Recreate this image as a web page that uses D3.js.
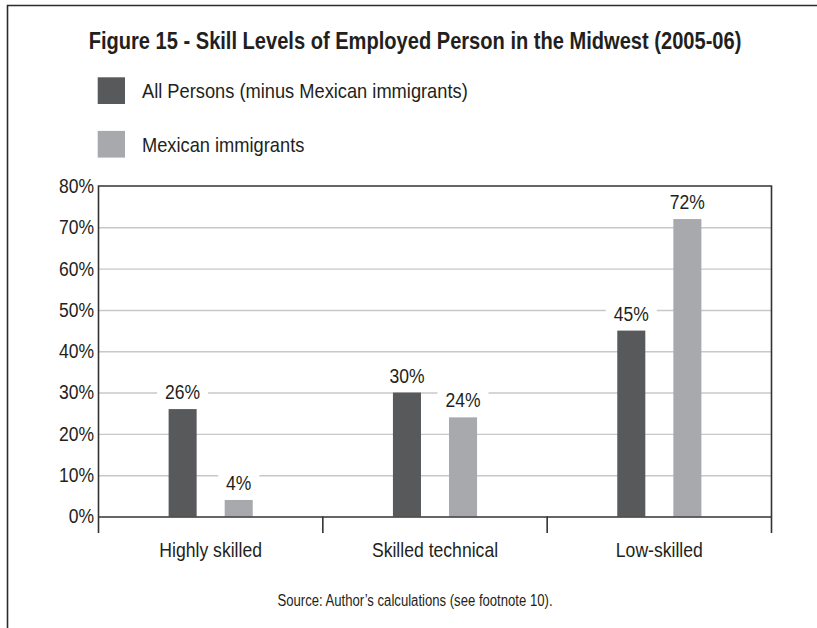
<!DOCTYPE html>
<html>
<head>
<meta charset="utf-8">
<script src="https://cdn.jsdelivr.net/npm/d3@7"></script>
<style>
  html, body { margin: 0; padding: 0; background: #fff; }
  svg { display: block; }
  text { font-family: "Liberation Sans", Arial, sans-serif; fill: #231f20; }
</style>
</head>
<body>
<svg id="chart" width="817" height="628"></svg>
<script>
// Skill levels of employed persons in the Midwest, 2005-06 (percent)
const categories = ["Highly skilled", "Skilled technical", "Low-skilled"];
const seriesNames = ["All Persons (minus Mexican immigrants)", "Mexican immigrants"];
const allPersons = [26, 30, 45];
const mexicanImmigrants = [4, 24, 72];
const yTickValues = [0, 10, 20, 30, 40, 50, 60, 70, 80];
const yTickLabels = ["0%", "10%", "20%", "30%", "40%", "50%", "60%", "70%", "80%"];
const seriesColors = ["#58595b", "#a7a9ac"];

const titleText = "Figure 15 - Skill Levels of Employed Person in the Midwest (2005-06)";
const sourceText = "Source: Author\u2019s calculations (see footnote 10).";

const svg = d3.select("#chart");

// narrow the glyphs horizontally about the text's anchor x, giving a condensed face
function condense(sel, factor) {
  sel.each(function () {
    const ax = +(this.getAttribute("x") || 0);
    this.setAttribute("transform", `translate(${ax * (1 - factor)},0) scale(${factor},1)`);
    this.__cw = this.getComputedTextLength() * factor;
  });
  return sel;
}

const plot = { left: 98.5, right: 771.5, top: 186, bottom: 516.5 };
const tickDrop = 16.5;

const x0 = d3.scaleBand().domain(categories).range([plot.left, plot.right]).padding(0);
const x1 = d3.scaleBand().domain([0, 1])
  .range([x0.bandwidth() * 0.3125, x0.bandwidth() * 0.6875])
  .paddingInner(0.5).paddingOuter(0);
const y = d3.scaleLinear().domain([0, 80]).range([plot.bottom, plot.top]);

// outer frame (left and top edges)
svg.append("path")
  .attr("d", "M7.5,628 V5.5 H817")
  .attr("fill", "none").attr("stroke", "#2b2b2b").attr("stroke-width", 1.6);

// title
svg.append("text")
  .attr("x", 415).attr("y", 49.3)
  .attr("text-anchor", "middle")
  .attr("font-weight", "bold")
  .attr("font-size", "24.5px")
  .text(titleText)
  .call(condense, 0.82);

// legend
const legend = svg.append("g");
seriesNames.forEach((name, i) => {
  const cy = 90.7 + i * 53.6;
  legend.append("rect")
    .attr("x", 97.7).attr("y", cy - 13.4)
    .attr("width", 27.3).attr("height", 26.7)
    .attr("fill", seriesColors[i]);
  legend.append("text")
    .attr("x", 142).attr("y", cy)
    .attr("dy", "0.36em")
    .attr("font-size", "21px")
    .text(name)
    .call(condense, 0.87);
});

// horizontal gridlines
const grid = svg.append("g")
  .attr("transform", `translate(${plot.left},0)`)
  .call(d3.axisLeft(y).tickValues(yTickValues.filter(v => v > 0 && v < 80))
    .tickSize(-(plot.right - plot.left)).tickFormat(""));
grid.select(".domain").remove();
grid.selectAll(".tick line").attr("stroke", "#c8c8c8").attr("stroke-width", 1.4);

// y axis labels
const yAxis = svg.append("g")
  .attr("transform", `translate(${plot.left},0)`)
  .call(d3.axisLeft(y).tickValues(yTickValues).tickSize(0).tickPadding(4.5)
    .tickFormat((d, i) => yTickLabels[i]));
yAxis.select(".domain").remove();
yAxis.selectAll(".tick text")
  .attr("font-size", "20px")
  .attr("font-family", null)
  .attr("fill", "#231f20")
  .call(condense, 0.875);

// plot frame: top edge, left axis, right edge (both sides drop below baseline)
svg.append("path")
  .attr("d", `M${plot.left},${plot.bottom + tickDrop} V${plot.top} H${plot.right} V${plot.bottom + tickDrop}`)
  .attr("fill", "none").attr("stroke", "#333").attr("stroke-width", 1.6);

// bars
const seriesValues = [allPersons, mexicanImmigrants];
const groups = svg.append("g").selectAll("g")
  .data(categories)
  .join("g")
  .attr("transform", d => `translate(${x0(d)},0)`);

groups.selectAll("rect")
  .data((d, ci) => seriesValues.map((vals, si) => ({ si, v: vals[ci] })))
  .join("rect")
  .attr("x", d => x1(d.si))
  .attr("width", x1.bandwidth())
  .attr("y", d => y(d.v))
  .attr("height", d => y(0) - y(d.v))
  .attr("fill", d => seriesColors[d.si]);

// value labels with a white backing that breaks the gridlines
const labels = groups.selectAll("g.lbl")
  .data((d, ci) => seriesValues.map((vals, si) => ({ si, v: vals[ci] })))
  .join("g")
  .attr("class", "lbl")
  .attr("transform", d => `translate(${x1(d.si) + x1.bandwidth() / 2},${y(d.v) - 10})`);

labels.append("text")
  .attr("text-anchor", "middle")
  .attr("font-size", "20px")
  .text(d => d.v + "%")
  .call(condense, 0.875);

labels.each(function () {
  const g = d3.select(this);
  const w = g.select("text").node().__cw;
  g.insert("rect", "text")
    .attr("x", -w / 2 - 8).attr("y", -17)
    .attr("width", w + 16).attr("height", 22)
    .attr("fill", "#fff");
});

// x axis baseline and category labels
const xAxis = svg.append("g")
  .attr("transform", `translate(0,${plot.bottom})`)
  .call(d3.axisBottom(x0).tickSize(0).tickPadding(26));
xAxis.select(".domain").attr("stroke", "#333").attr("stroke-width", 1.6);
xAxis.selectAll(".tick text")
  .attr("font-size", "20px")
  .attr("font-family", null)
  .attr("fill", "#231f20")
  .call(condense, 0.88);

// separators between categories
svg.append("g").selectAll("line")
  .data(categories.slice(1))
  .join("line")
  .attr("x1", d => x0(d)).attr("x2", d => x0(d))
  .attr("y1", plot.bottom).attr("y2", plot.bottom + tickDrop)
  .attr("stroke", "#333").attr("stroke-width", 1.6);

// source note
svg.append("text")
  .attr("x", 415).attr("y", 605.7)
  .attr("text-anchor", "middle")
  .attr("font-size", "16px")
  .text(sourceText)
  .call(condense, 0.82);
</script>
</body>
</html>
